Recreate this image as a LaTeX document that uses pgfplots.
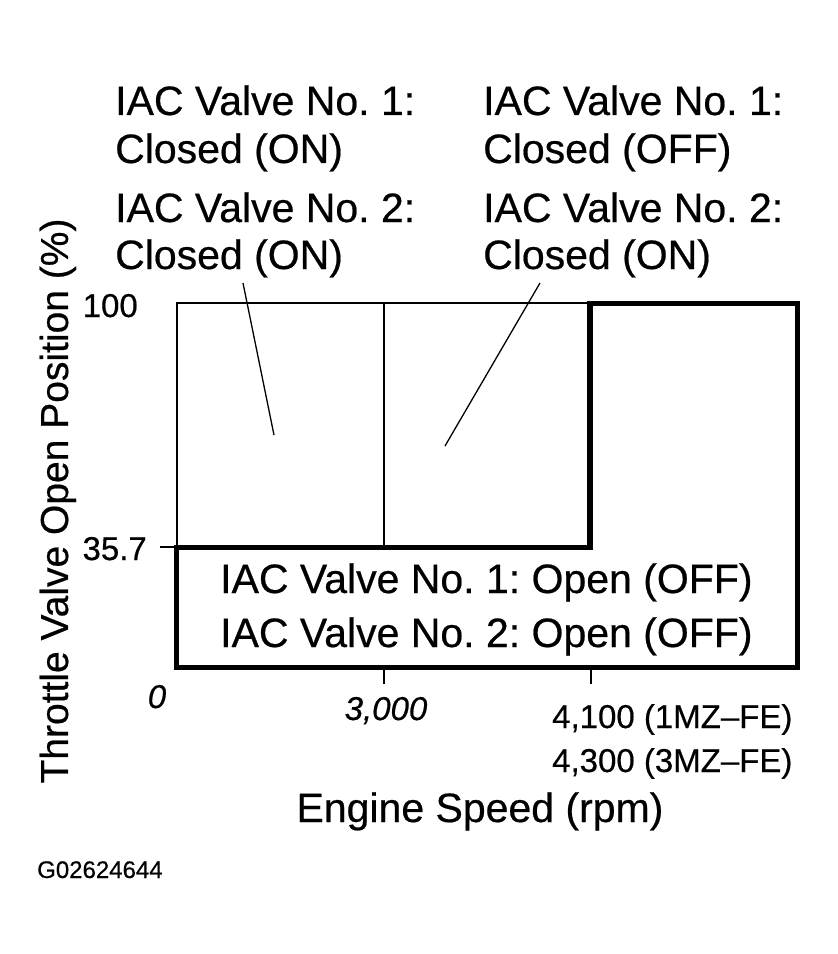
\documentclass[border=0pt]{standalone}
\usepackage{pgfplots}
\pgfplotsset{compat=1.18}
\usepackage{fontspec}
\setmainfont{Liberation Sans}[FakeBold=0.5]
\frenchspacing

\newcommand{\bigtxt}{\fontsize{41pt}{48pt}\selectfont}
\newcommand{\ticktxt}{\fontsize{33pt}{38pt}\selectfont}

\begin{document}
\begin{tikzpicture}
\path[use as bounding box] (-177pt,-287pt) rectangle (661pt,667pt);
\begin{axis}[
    at={(0,0)}, anchor=south west,
    x=1pt, y=1pt,
    xmin=0, xmax=620,
    ymin=0, ymax=364,
    clip=false,
    axis line style={line width=1.6pt},
    xtick={207,414}, xticklabels={},
    ytick={120}, yticklabels={},
    tick align=outside,
    xtick pos=bottom, ytick pos=left,
    major tick length=17pt,
    tick style={line width=1.6pt, black},
]

% region borders
\addplot[black, line width=5pt, mark=none, line join=miter] coordinates {
  (0,0) (620,0) (620,364) (413,364) (413,120) (0,120) (0,0) (620,0)
};
\addplot[black, line width=1.6pt, mark=none] coordinates {(207,120) (207,364)};

% leader lines
\draw[line width=1.3pt] (axis cs:66,384) -- (axis cs:97,232);
\draw[line width=1.3pt] (axis cs:363,384) -- (axis cs:268,221);

% region texts
\node[anchor=base west, inner sep=0] at (axis cs:-62,552) {\bigtxt IAC Valve No. 1:};
\node[anchor=base west, inner sep=0] at (axis cs:-62,504) {\bigtxt Closed (ON)};
\node[anchor=base west, inner sep=0] at (axis cs:-62,445) {\bigtxt IAC Valve No. 2:};
\node[anchor=base west, inner sep=0] at (axis cs:-62,398) {\bigtxt Closed (ON)};

\node[anchor=base west, inner sep=0] at (axis cs:306,552) {\bigtxt IAC Valve No. 1:};
\node[anchor=base west, inner sep=0] at (axis cs:306,504) {\bigtxt Closed (OFF)};
\node[anchor=base west, inner sep=0] at (axis cs:306,445) {\bigtxt IAC Valve No. 2:};
\node[anchor=base west, inner sep=0] at (axis cs:306,398) {\bigtxt Closed (ON)};

\node[anchor=base west, inner sep=0] at (axis cs:43,74) {\bigtxt IAC Valve No. 1: Open (OFF)};
\node[anchor=base west, inner sep=0] at (axis cs:43,20) {\bigtxt IAC Valve No. 2: Open (OFF)};

% tick labels
\node[anchor=base east, inner sep=0] at (axis cs:-39,350) {\ticktxt 100};
\node[anchor=base east, inner sep=0] at (axis cs:-30,107) {\ticktxt 35.7};
\node[anchor=base, inner sep=0] at (axis cs:-20,-41) {\ticktxt\itshape 0};
\node[anchor=base, inner sep=0] at (axis cs:209,-53) {\ticktxt\itshape 3,000};
\node[anchor=base west, inner sep=0] at (axis cs:375,-61) {\ticktxt 4,100 (1MZ--FE)};
\node[anchor=base west, inner sep=0] at (axis cs:375,-105) {\ticktxt 4,300 (3MZ--FE)};

% axis titles
\node[anchor=base, inner sep=0] at (axis cs:303,-155) {\bigtxt Engine Speed (rpm)};
\node[anchor=base, inner sep=0, rotate=90] at (axis cs:-109,166)
  {\fontsize{39pt}{46pt}\selectfont Throttle Valve Open Position (\%)};

\node[anchor=base west, inner sep=0] at (axis cs:-140,-211)
  {\fontsize{24pt}{28pt}\selectfont G02624644};
\end{axis}
\end{tikzpicture}
\end{document}
